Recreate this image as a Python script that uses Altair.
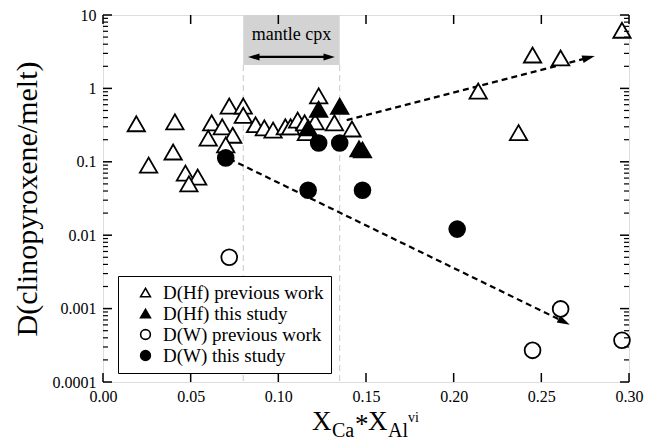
import altair as alt
import pandas as pd

W, H = 526, 367
FONT = "Liberation Serif"

# ---- data ----
hf_prev_x = [0.019, 0.026, 0.041, 0.040, 0.047, 0.054, 0.049, 0.062, 0.060, 0.068,
             0.074, 0.070, 0.072, 0.080, 0.080, 0.087, 0.092, 0.097, 0.104, 0.107,
             0.111, 0.116, 0.123, 0.121, 0.115, 0.132, 0.142, 0.214, 0.237, 0.245,
             0.261, 0.296]
hf_prev_y = [0.33, 0.09, 0.35, 0.136, 0.070, 0.062, 0.050, 0.34, 0.21, 0.30,
             0.23, 0.17, 0.575, 0.575, 0.43, 0.32, 0.29, 0.27, 0.30, 0.30,
             0.37, 0.25, 0.79, 0.35, 0.34, 0.34, 0.28, 0.92, 0.25, 2.85,
             2.6, 6.2]

hf_this_x = [0.117, 0.123, 0.135, 0.146, 0.148]
hf_this_y = [0.29, 0.52, 0.57, 0.15, 0.145]

w_prev_x = [0.072, 0.261, 0.245, 0.296]
w_prev_y = [0.0050, 0.00099, 0.00027, 0.00037]

w_this_x = [0.070, 0.123, 0.135, 0.117, 0.148, 0.202]
w_this_y = [0.113, 0.18, 0.18, 0.041, 0.041, 0.0121]

series_order = ["D(Hf) previous work", "D(Hf) this study",
                "D(W) previous work", "D(W) this study"]

# trend arrows (start, end)
up_arrow_x = [0.139, 0.277]
up_arrow_y = [0.37, 2.62]
down_arrow_x = [0.072, 0.263]
down_arrow_y = [0.11, 0.00066]

# mantle cpx band
band_x = [0.08, 0.135]
band_y = [2.08, 10]
band_arrow_x = [0.086, 0.129]
band_arrow_y = 2.68
band_label_y = 5.35

x_ticks = [0.00, 0.05, 0.10, 0.15, 0.20, 0.25, 0.30]
y_major = [0.0001, 0.001, 0.01, 0.1, 1, 10]
y_minor = [d * k for d in [0.0001, 0.001, 0.01, 0.1, 1] for k in range(2, 10)]

# ---- tables ----
tri_rows, cir_rows = [], []
for name, xs, ys in [(series_order[0], hf_prev_x, hf_prev_y),
                     (series_order[1], hf_this_x, hf_this_y)]:
    for a, b in zip(xs, ys):
        tri_rows.append({"x": a, "y": b, "series": name})
for name, xs, ys in [(series_order[2], w_prev_x, w_prev_y),
                     (series_order[3], w_this_x, w_this_y)]:
    for a, b in zip(xs, ys):
        cir_rows.append({"x": a, "y": b, "series": name})
tri = pd.DataFrame(tri_rows)
cir = pd.DataFrame(cir_rows)

lines = pd.DataFrame({
    "x": up_arrow_x + down_arrow_x,
    "y": up_arrow_y + down_arrow_y,
    "line": ["up", "up", "down", "down"],
    "o": [0, 1, 0, 1],
})

x_scale = alt.Scale(domain=[0, 0.30], nice=False, zero=False)
y_scale = alt.Scale(type="log", domain=[0.0001, 10], nice=False)

x_axis = alt.Axis(values=x_ticks, format=".2f", ticks=False, domain=False, grid=False,
                  title="", labelPadding=6, labelFontSize=16, labelFont=FONT,
                  labelColor="black", labelFlush=False)
y_axis = alt.Axis(values=y_major, format="~g", ticks=False, domain=False, grid=False,
                  title="D(clinopyroxene/melt)", titleFont=FONT, titleFontSize=30,
                  titleFontWeight="normal", titleColor="black", titlePadding=10,
                  labelPadding=7, labelFontSize=16, labelFont=FONT, labelColor="black",
                  labelFlush=False)


def X(field="x"):
    return alt.X(f"{field}:Q", scale=x_scale, axis=x_axis)


def Y(field="y"):
    return alt.Y(f"{field}:Q", scale=y_scale, axis=y_axis)


band = alt.Chart(pd.DataFrame({"x": [band_x[0]], "x2": [band_x[1]],
                               "y": [band_y[0]], "y2": [band_y[1]]})).mark_rect(
    color="#d3d3d3").encode(x=X(), x2="x2:Q", y=Y(), y2="y2:Q")

vlines = alt.Chart(pd.DataFrame({"x": band_x, "y": [band_y[0]] * 2,
                                 "y2": [0.0001] * 2})).mark_rule(
    color="#c8c8c8", strokeWidth=1, strokeDash=[6, 4]).encode(x=X(), y=Y(), y2="y2:Q")

band_line = alt.Chart(pd.DataFrame({"x": [band_arrow_x[0]], "x2": [band_arrow_x[1]],
                                    "y": [band_arrow_y]})).mark_rule(
    color="black", strokeWidth=2.2).encode(x=X(), x2="x2:Q", y=Y())

head_path = "M1,0L-1,-0.62L-1,0.62Z"
band_head_r = alt.Chart(pd.DataFrame({"x": [band_arrow_x[1]], "y": [band_arrow_y]})).mark_point(
    shape=head_path, filled=True, color="black", size=130, opacity=1).encode(x=X(), y=Y())
band_head_l = alt.Chart(pd.DataFrame({"x": [band_arrow_x[0]], "y": [band_arrow_y]})).mark_point(
    shape=head_path, filled=True, color="black", size=130, angle=180, opacity=1).encode(x=X(), y=Y())

band_text = alt.Chart(pd.DataFrame({"x": [sum(band_x) / 2], "y": [band_label_y],
                                    "t": ["mantle cpx"]})).mark_text(
    font=FONT, fontSize=18, color="black", baseline="middle").encode(x=X(), y=Y(), text="t:N")

trend = alt.Chart(lines).mark_line(color="black", strokeWidth=2.2, strokeDash=[6, 4]).encode(
    x=X(), y=Y(), detail="line:N", order="o:Q")

head_up = alt.Chart(pd.DataFrame({"x": [up_arrow_x[1]], "y": [up_arrow_y[1]]})).mark_point(
    shape=head_path, filled=True, color="black", size=160, angle=345, opacity=1).encode(x=X(), y=Y())
head_down = alt.Chart(pd.DataFrame({"x": [down_arrow_x[1]], "y": [down_arrow_y[1]]})).mark_point(
    shape=head_path, filled=True, color="black", size=160, angle=27, opacity=1).encode(x=X(), y=Y())

legend = alt.Legend(title=None, orient="none", legendX=15, legendY=261,
                    fillColor="white", strokeColor="black", padding=7,
                    labelFont=FONT, labelFontSize=19, labelColor="black", labelLimit=400,
                    symbolSize=95, symbolStrokeWidth=1.6, symbolStrokeColor="black",
                    symbolOffset=11, rowPadding=1, labelOffset=8, symbolOpacity=1)

shape_enc = alt.Shape("series:N", scale=alt.Scale(domain=series_order,
                      range=["triangle-up", "triangle-up", "circle", "circle"]), legend=legend)
fill_enc = alt.Fill("series:N", scale=alt.Scale(domain=series_order,
                    range=["white", "black", "white", "black"]), legend=legend)
stroke_enc = alt.Stroke("series:N", scale=alt.Scale(domain=series_order,
                        range=["black", "black", "black", "black"]), legend=legend)

tri_pts = alt.Chart(tri).mark_point(filled=True, strokeWidth=1.8,
                                    opacity=1, size=300).encode(
    x=X(), y=Y(), shape=shape_enc, fill=fill_enc, stroke=stroke_enc)
cir_pts = alt.Chart(cir).mark_point(filled=True, strokeWidth=1.8,
                                    opacity=1, size=250).encode(
    x=X(), y=Y(), shape=shape_enc, fill=fill_enc, stroke=stroke_enc)

# inward ticks
ymaj = pd.DataFrame({"y": y_major})
ymin = pd.DataFrame({"y": y_minor})
xt = pd.DataFrame({"x": x_ticks})
tick_layers = [
    alt.Chart(ymaj).mark_rule(color="black", strokeWidth=1.5).encode(y=Y(), x=alt.value(0), x2=alt.value(9)),
    alt.Chart(ymaj).mark_rule(color="black", strokeWidth=1.5).encode(y=Y(), x=alt.value(W), x2=alt.value(W - 9)),
    alt.Chart(ymin).mark_rule(color="black", strokeWidth=1.2).encode(y=Y(), x=alt.value(0), x2=alt.value(5)),
    alt.Chart(ymin).mark_rule(color="black", strokeWidth=1.2).encode(y=Y(), x=alt.value(W), x2=alt.value(W - 5)),
    alt.Chart(xt).mark_rule(color="black", strokeWidth=1.5).encode(x=X(), y=alt.value(H), y2=alt.value(H - 9)),
    alt.Chart(xt).mark_rule(color="black", strokeWidth=1.5).encode(x=X(), y=alt.value(0), y2=alt.value(9)),
]

# x-axis title with sub/superscripts
one = pd.DataFrame({"a": [0]})


def txt(s, px, py, size):
    return alt.Chart(one).mark_text(text=s, font=FONT, fontSize=size, color="black",
                                    align="left", baseline="alphabetic").encode(
        x=alt.value(px), y=alt.value(py))


xtitle = [
    txt("X", 209, 415, 27),
    txt("Ca", 229, 422, 20),
    txt("*", 252, 418, 27),
    txt("X", 265, 415, 27),
    txt("Al", 285, 422, 20),
    txt("vi", 305, 407, 14),
]

chart = alt.layer(
    band, vlines, band_line, band_head_l, band_head_r, band_text,
    trend, head_up, head_down, tri_pts, cir_pts, *tick_layers, *xtitle
).properties(
    width=W, height=H,
    padding={"left": 103, "top": 15, "right": 16, "bottom": 60},
    autosize=alt.AutoSizeParams(type="none"),
).configure_view(stroke="black", strokeWidth=2).configure(
    background="white"
).configure_axis(labelFont=FONT, titleFont=FONT)

chart.save("out.html", embed_options={"renderer": "svg", "actions": False})
